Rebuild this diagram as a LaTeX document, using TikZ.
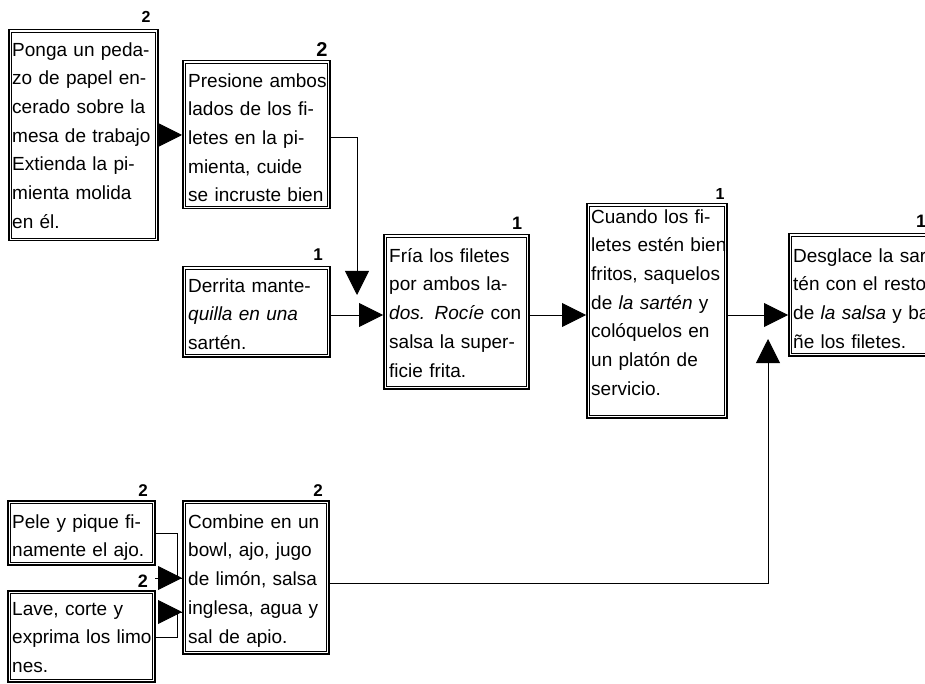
\documentclass[tikz,border=0pt]{standalone}
\usepackage{fontspec}
\setmainfont{Liberation Sans}
\usetikzlibrary{arrows.meta,calc}

\tikzset{
  x=1pt, y=-1pt,
  stepbox/.style={draw, rectangle, line width=1.5pt, inner sep=0pt, anchor=north west},
  innerframe/.style={line width=0.7pt},
  boxtext/.style={anchor=north west, inner sep=0pt, text width=220pt, align=left,
    font=\fontsize{19}{28.7}\selectfont, execute at begin node={\rule{0pt}{16pt}}},
  count/.style={anchor=base, inner sep=0pt},
  link/.style={line width=0.9pt},
  head/.style={line width=0.9pt, -{Triangle[length=24pt,width=24pt]}},
}

% \stepframe{name}{left}{top}{width}{height}
\newcommand\stepframe[5]{%
  \node[stepbox, minimum width=#4pt, minimum height=#5pt] (#1) at (#2,#3) {};
  \draw[innerframe] ([shift={(2.9pt,-2.9pt)}]#1.north west) rectangle ([shift={(-2.9pt,2.9pt)}]#1.south east);
}

\begin{document}
\begin{tikzpicture}
\useasboundingbox (0,0) rectangle (925,684);
\fill[white] (0,0) rectangle (925,684);
\clip (0,0) rectangle (925,684);

% frames
\stepframe{A}{8}{29}{149}{211}
\stepframe{B}{182}{60}{147}{148}
\stepframe{C}{182}{266}{147}{90}
\stepframe{D}{383}{234}{145}{154}
\stepframe{E}{586}{203}{140}{214}
\stepframe{F}{788}{233}{180}{122}
\stepframe{G}{7}{500}{147}{64}
\stepframe{H}{7}{590}{147}{91}
\stepframe{I}{182}{500}{146}{153}

% texts (first baseline 16pt below the anchor)
\node[boxtext] (tA) at (12,40) {Ponga un peda-\\zo de papel en-\\cerado sobre la\\mesa de trabajo\\Extienda la pi-\\mienta molida\\en él.};
\node[boxtext] (tB) at (188,71) {Presione ambos\\lados de los fi-\\letes en la pi-\\mienta, cuide\\se incruste bien};
\node[boxtext] (tC) at (188,276) {Derrita mante-\\\textit{quilla en una}\\sartén.};
\node[boxtext] (tD) at (389,246) {Fría los filetes\\por ambos la-\\\textit{dos. Rocíe} con\\salsa la super-\\ficie frita.};
\node[boxtext] (tE) at (591,207) {Cuando los fi-\\letes estén bien\\fritos, saquelos\\de \textit{la sartén} y\\colóquelos en\\un platón de\\servicio.};
\node[boxtext] (tF) at (793,246) {Desglace la sar-\\tén con el resto\\de \textit{la salsa} y ba\\ñe los filetes.};
\node[boxtext] (tG) at (12,512) {Pele y pique fi-\\namente el ajo.};
\node[boxtext] (tH) at (12,599) {Lave, corte y\\exprima los limo\\nes.};
\node[boxtext] (tI) at (188,512) {Combine en un\\bowl, ajo, jugo\\de limón, salsa\\inglesa, agua y\\sal de apio.};

% counts above the frames
\node[count, font=\fontsize{16}{16}\selectfont\bfseries] (nA) at (146,23) {2};
\node[count, font=\fontsize{20}{20}\selectfont\bfseries] (nB) at (322,57) {2};
\node[count, font=\fontsize{17}{17}\selectfont\bfseries] (nC) at (318,261) {1};
\node[count, font=\fontsize{18}{18}\selectfont\bfseries] (nD) at (517,230) {1};
\node[count, font=\fontsize{16}{16}\selectfont\bfseries] (nE) at (720,200) {1};
\node[count, font=\fontsize{18}{18}\selectfont\bfseries] (nF) at (921,228) {1};
\node[count, font=\fontsize{17}{17}\selectfont\bfseries] (nG) at (143,496) {2};
\node[count, font=\fontsize{17}{17}\selectfont\bfseries] (nI) at (318,496) {2};
\node[count, font=\fontsize{18}{18}\selectfont\bfseries] (nH) at (143,587) {2};

% routing points
\coordinate (ab) at (0,135);
\coordinate (bturn) at (357,137);
\coordinate (btip) at (357,295);
\coordinate (row) at (0,315);
\coordinate (iturn) at (768,583);
\coordinate (itip) at (768,339);
\coordinate (gout) at (0,533);
\coordinate (gin) at (177,578);
\coordinate (hout) at (0,637);
\coordinate (hin) at (177,612);

% connectors
\draw[head] (A.east |- ab) -- (B.west |- ab);
\draw[head] (B.east |- bturn) -| (btip);
\draw[head] (C.east |- row) -- (D.west |- row);
\draw[head] (D.east |- row) -- (E.west |- row);
\draw[head] (E.east |- row) -- (F.west |- row);
\draw[head] (I.east |- iturn) -| (itip);

\draw[link] (G.east |- gout) -| (gin) -- (I.west |- gin);
\draw[head] ($(I.west |- gin)+(-27,0)$) -- (I.west |- gin);
\draw[link] (H.east |- hout) -| (hin) -- (I.west |- hin);
\draw[head] ($(I.west |- hin)+(-24,0)$) -- (I.west |- hin);
\end{tikzpicture}
\end{document}
